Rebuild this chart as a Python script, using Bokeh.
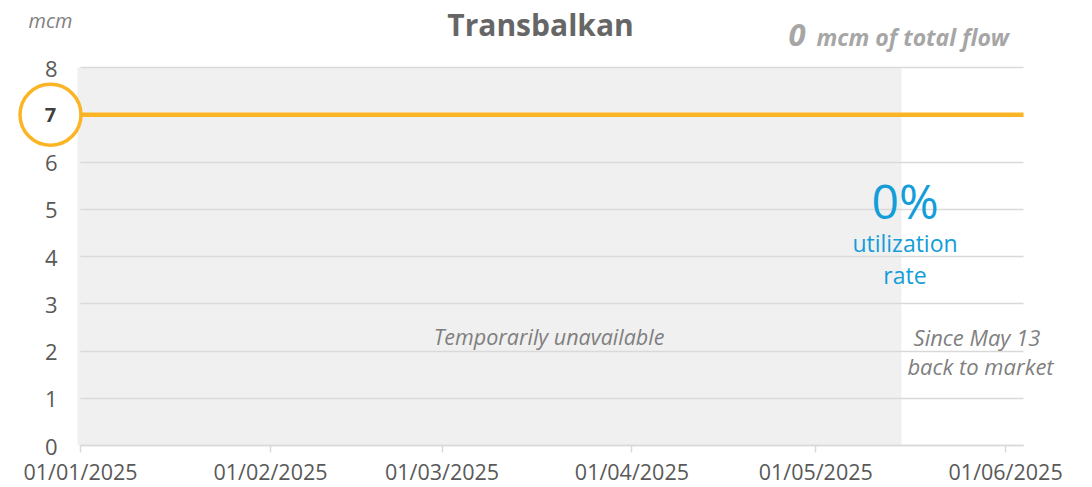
import datetime as dt
from bokeh.plotting import figure
from bokeh.models import Label, FixedTicker, DatetimeTickFormatter, Range1d, Grid
from bokeh.embed import file_html
from bokeh.resources import INLINE

# ---------------- data ----------------
title_text = "Transbalkan"
unit_text = "mcm"
total_flow_value = "0"
total_flow_unit = "mcm of total flow"
utilization_value = "0%"
utilization_label = ["utilization", "rate"]
capacity_value = 7
line_start = "2025-01-01"
axis_start = "2025-01-01"
axis_end = "2025-06-03T22:00"
unavailable_start = "2024-12-31T12:00"
unavailable_end = "2025-05-15"
unavailable_text = "Temporarily unavailable"
market_text = ["Since May 13", "back to market"]
x_tick_dates = ["2025-01-01", "2025-02-01", "2025-03-01", "2025-04-01", "2025-05-01", "2025-06-01"]
y_ticks = [0, 1, 2, 3, 4, 5, 6, 7, 8]
y_min, y_max = 0, 8

# ---------------- layout (pixels of the plotting window) ----------------
W, H = 1092, 487
FRAME_L, FRAME_R, FRAME_T, FRAME_B = 77, 1023, 67, 445

EPOCH = dt.datetime(1970, 1, 1)
def ms(s):
    return (dt.datetime.fromisoformat(s) - EPOCH).total_seconds() * 1000.0

xd0, xd1 = ms(unavailable_start), ms(axis_end)
x_per_px = (xd1 - xd0) / (FRAME_R - FRAME_L)
x_lo = xd0 - FRAME_L * x_per_px
x_hi = xd1 + (W - FRAME_R) * x_per_px
y_per_px = (y_max - y_min) / (FRAME_B - FRAME_T)
y_lo = y_min - (H - FRAME_B) * y_per_px
y_hi = y_max + FRAME_T * y_per_px

def px_x(px):   # helper for text placement only
    return x_lo + px * x_per_px
def px_y(py):
    return y_hi - py * y_per_px

FONT = "Open Sans"
ORANGE = "#FBB424"
BLUE = "#139DD9"
GRID = "#D9D9D9"
TICK_COLOR = "#595959"

p = figure(width=W, height=H, output_backend="svg", toolbar_location=None,
           x_axis_type="datetime",
           x_range=Range1d(x_lo, x_hi), y_range=Range1d(y_lo, y_hi),
           min_border=0)
p.outline_line_color = None
p.background_fill_color = "white"
p.border_fill_color = "white"

# shaded unavailable period
p.quad(left=[ms(unavailable_start)], right=[ms(unavailable_end)], bottom=[y_min], top=[y_max],
       fill_color="#F0F0F0", line_color=None, level="underlay")

# grid
p.xgrid.grid_line_color = None
yg = p.ygrid[0]
yg.ticker = FixedTicker(ticks=y_ticks)
if hasattr(Grid, "cross_bounds"):
    yg.grid_line_color = GRID
    yg.grid_line_width = 1.5
    yg.cross_bounds = (ms(axis_start), ms(axis_end))
else:
    yg.grid_line_color = None
    p.segment(x0=[ms(axis_start)] * len(y_ticks), x1=[ms(axis_end)] * len(y_ticks),
              y0=y_ticks, y1=y_ticks, line_color=GRID, line_width=1.5, level="underlay")

# capacity line
p.line(x=[ms(line_start), ms(axis_end)], y=[capacity_value, capacity_value],
       line_color=ORANGE, line_width=4.5)

# axes (fixed inside the canvas)
xa = p.xaxis[0]
xa.fixed_location = y_min
xa.bounds = (ms(axis_start), ms(axis_end))
xa.ticker = FixedTicker(ticks=[ms(d) for d in x_tick_dates])
xa.formatter = DatetimeTickFormatter(days="%d/%m/%Y", months="%d/%m/%Y", years="%d/%m/%Y")
xa.axis_line_color = GRID
xa.axis_line_width = 1.5
xa.major_tick_line_color = GRID
xa.major_tick_line_width = 1.5
xa.major_tick_out = 7
xa.major_tick_in = 0
xa.minor_tick_line_color = None
xa.major_label_text_font = FONT
xa.major_label_text_font_size = "21.5px"
xa.major_label_text_color = TICK_COLOR
xa.major_label_standoff = 4

ya = p.yaxis[0]
ya.fixed_location = ms(unavailable_start)
ya.bounds = (y_min, y_max)
ya.ticker = FixedTicker(ticks=y_ticks)
ya.major_label_overrides = {capacity_value: " "}
ya.axis_line_color = None
ya.major_tick_line_color = None
ya.major_tick_out = 0
ya.major_tick_in = 0
ya.minor_tick_line_color = None
ya.major_label_text_font = FONT
ya.major_label_text_font_size = "22px"
ya.major_label_text_color = TICK_COLOR
ya.major_label_standoff = 20

# circled capacity value
cx = px_x(50)
p.scatter(x=[cx], y=[capacity_value], marker="circle", size=61,
          fill_color="white", line_color=ORANGE, line_width=3.5)
p.add_layout(Label(x=cx, y=capacity_value, text=str(capacity_value),
                   text_align="center", text_baseline="middle",
                   text_font=FONT, text_font_size="20px", text_font_style="bold",
                   text_color="#404040"))

# title and header texts
p.add_layout(Label(x=px_x(540), y=px_y(23.5), text=title_text, text_align="center",
                   text_baseline="middle", text_font=FONT, text_font_size="30px",
                   text_font_style="bold", text_color="#666666"))
p.add_layout(Label(x=px_x(50), y=px_y(20), text=unit_text, text_align="center",
                   text_baseline="middle", text_font=FONT, text_font_size="20px",
                   text_font_style="italic", text_color="#7F7F7F"))
p.add_layout(Label(x=px_x(788), y=px_y(34), text=total_flow_value, text_align="left",
                   text_baseline="middle", text_font=FONT, text_font_size="31px",
                   text_font_style="bold italic", text_color="#A6A6A6"))
p.add_layout(Label(x=px_x(816), y=px_y(36), text=total_flow_unit, text_align="left",
                   text_baseline="middle", text_font=FONT, text_font_size="23px",
                   text_font_style="bold italic", text_color="#A6A6A6"))

# utilization
p.add_layout(Label(x=px_x(904.5), y=px_y(200), text=utilization_value, text_align="center",
                   text_baseline="middle", text_font=FONT, text_font_size="48px",
                   text_color=BLUE))
for txt, py in zip(utilization_label, [242, 274]):
    p.add_layout(Label(x=px_x(904.5), y=px_y(py), text=txt, text_align="center",
                       text_baseline="middle", text_font=FONT, text_font_size="23px",
                       text_color=BLUE))

# period notes
p.add_layout(Label(x=px_x(548.5), y=px_y(335.5), text=unavailable_text, text_align="center",
                   text_baseline="middle", text_font=FONT, text_font_size="21.5px",
                   text_font_style="italic", text_color="#7F7F7F"))
for txt, px, py in zip(market_text, [976.5, 980], [336.5, 365]):
    p.add_layout(Label(x=px_x(px), y=px_y(py), text=txt, text_align="center",
                       text_baseline="middle", text_font=FONT, text_font_size="22px",
                       text_font_style="italic", text_color="#7F7F7F"))

open("out.html", "w").write(file_html(p, INLINE))
